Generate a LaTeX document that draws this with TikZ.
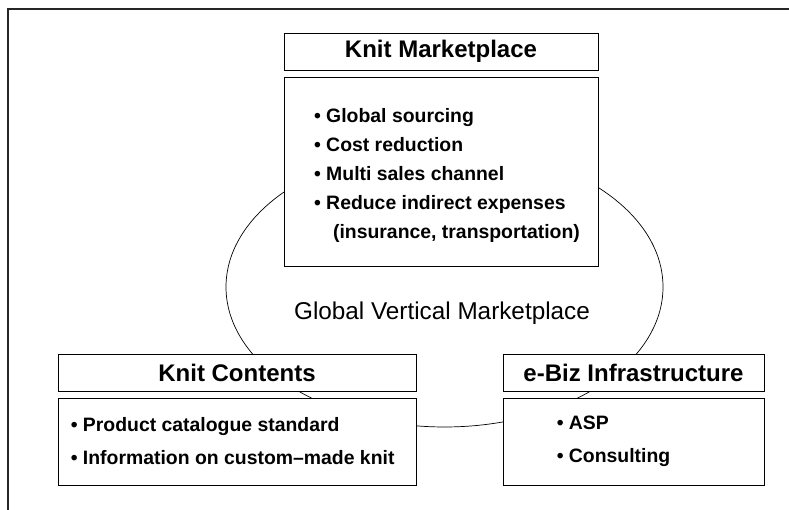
\documentclass[tikz,border=0pt]{standalone}
\usepackage{fontspec}
\setmainfont{Liberation Sans}
\usetikzlibrary{positioning}

\tikzset{
  titlebox/.style={draw, fill=white, line width=0.8pt, inner sep=0pt,
    font=\bfseries\fontsize{24}{28}\selectfont},
  listbox/.style={draw, fill=white, line width=0.8pt, inner sep=0pt},
  listtext/.style={align=left, inner sep=0pt,
    font=\bfseries\fontsize{19.4}{29}\selectfont},
}

\begin{document}
\begin{tikzpicture}[x=1pt, y=1pt]
    \useasboundingbox (0,0) rectangle (789,510);

    % Draw the outer frame
    \draw[line width=1.5pt, black!85] (8,-20) |- (820,501);

    % Draw the ring behind the boxes
    \draw[line width=0.7pt] (444.5,223) ellipse [x radius=218.5pt, y radius=140pt];
    \node[font=\fontsize{24.3}{29}\selectfont] (ringLabel) at (442,197) {Global Vertical Marketplace};

    % Knit Marketplace
    \node[titlebox, minimum width=314pt, minimum height=37pt] (mktTitle) at (441,458.5) {Knit Marketplace};
    \node[listbox, minimum width=314pt, minimum height=189pt] (mktBox) at (441,338.5) {};
    \node[listtext] (mktList) at ([xshift=6pt, yshift=-3.5pt]mktBox.center) {%
      • Global sourcing\\
      • Cost reduction\\
      • Multi sales channel\\
      • Reduce indirect expenses\\
      \hspace*{19pt}(insurance, transportation)};

    % Knit Contents
    \node[titlebox, minimum width=358pt, minimum height=37pt] (kcTitle) at (237,137.5) {Knit Contents};
    \node[listbox, minimum width=358pt, minimum height=87pt] (kcBox) at (237,68.5) {};
    \node[listtext, font=\bfseries\fontsize{19.4}{33}\selectfont, right=13pt of kcBox.west] (kcList) {%
      • Product catalogue standard\\
      • Information on custom–made knit};

    % e-Biz Infrastructure
    \node[titlebox, minimum width=261pt, minimum height=37pt] (ebTitle) at (633.5,137.5) {e-Biz Infrastructure};
    \node[listbox, minimum width=261pt, minimum height=87pt] (ebBox) at (633.5,68.5) {};
    \node[listtext, font=\bfseries\fontsize{19.4}{33}\selectfont, right=54pt of ebBox.west] (ebList) {%
      • ASP\\
      • Consulting};
\end{tikzpicture}
\end{document}
